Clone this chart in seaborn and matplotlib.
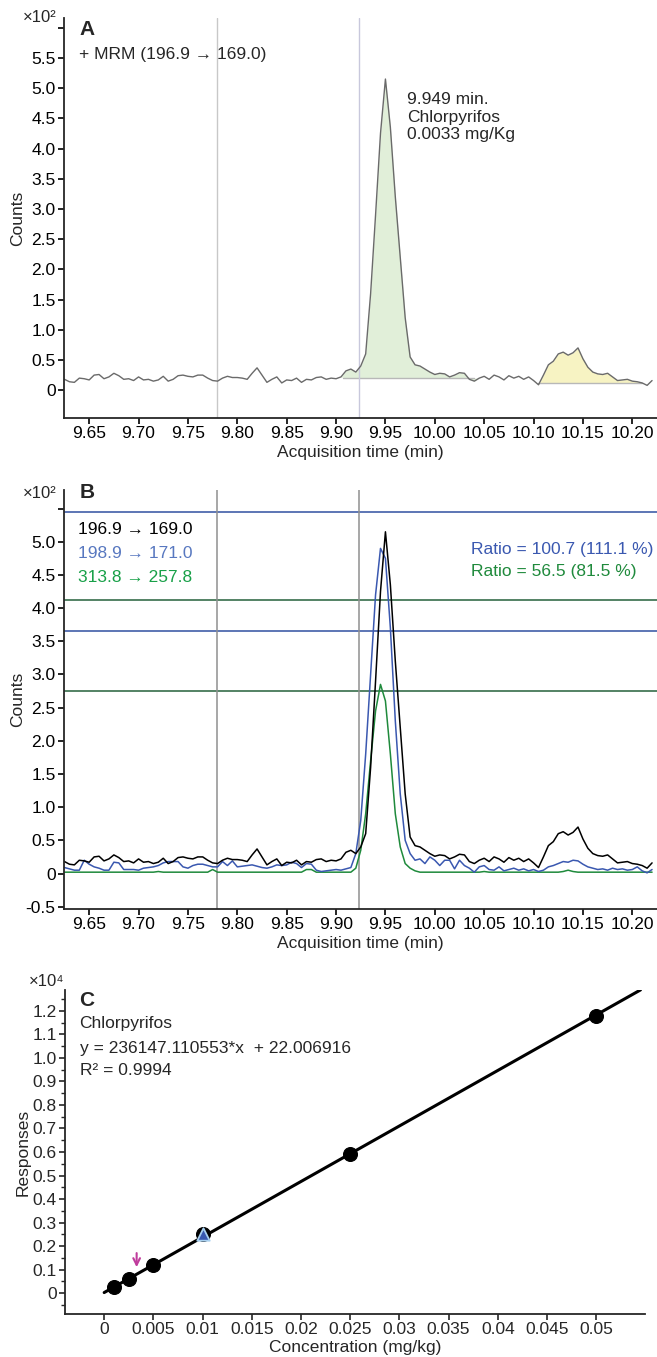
import numpy as np
import matplotlib
matplotlib.use("Agg")
import matplotlib.pyplot as plt
import seaborn as sns

# ------------------------------------------------------------------ data
T_START, T_STEP = 9.625, 0.005          # acquisition grid (min)
# 196.9 -> 169.0 quantifier trace (x10^2 counts)
TRACE_196 = [0.18, 0.14, 0.13, 0.20, 0.19, 0.17, 0.25, 0.26, 0.19, 0.22,
             0.28, 0.24, 0.18, 0.19, 0.16, 0.22, 0.17, 0.18, 0.15, 0.17,
             0.23, 0.15, 0.18, 0.24, 0.25, 0.23, 0.22, 0.25, 0.25, 0.20,
             0.16, 0.15, 0.20, 0.23, 0.21, 0.21, 0.20, 0.18, 0.28, 0.37,
             0.25, 0.13, 0.18, 0.22, 0.12, 0.17, 0.16, 0.20, 0.13, 0.18,
             0.17, 0.21, 0.22, 0.18, 0.20, 0.19, 0.22, 0.32, 0.35, 0.30,
             0.40, 0.60, 1.60, 2.90, 4.25, 5.15, 4.35, 3.20, 2.20, 1.20,
             0.55, 0.42, 0.40, 0.35, 0.30, 0.26, 0.28, 0.27, 0.22, 0.25,
             0.29, 0.28, 0.18, 0.15, 0.20, 0.23, 0.18, 0.25, 0.22, 0.17,
             0.24, 0.20, 0.23, 0.18, 0.22, 0.16, 0.09, 0.25, 0.42, 0.48,
             0.60, 0.63, 0.58, 0.62, 0.70, 0.52, 0.38, 0.30, 0.27, 0.26,
             0.28, 0.22, 0.16, 0.17, 0.18, 0.15, 0.14, 0.12, 0.08, 0.16]
# 198.9 -> 171.0 qualifier
TRACE_198 = [0.09, 0.07, 0.05, 0.05, 0.20, 0.14, 0.10, 0.08, 0.05, 0.05,
             0.17, 0.16, 0.06, 0.06, 0.06, 0.05, 0.08, 0.09, 0.10, 0.12,
             0.16, 0.18, 0.18, 0.18, 0.10, 0.08, 0.12, 0.14, 0.14, 0.12,
             0.10, 0.10, 0.18, 0.12, 0.19, 0.10, 0.11, 0.12, 0.13, 0.11,
             0.09, 0.08, 0.10, 0.13, 0.12, 0.13, 0.17, 0.15, 0.09, 0.15,
             0.14, 0.05, 0.03, 0.04, 0.05, 0.06, 0.05, 0.07, 0.09, 0.30,
             0.80, 1.80, 3.00, 4.20, 4.90, 4.75, 3.70, 2.30, 1.20, 0.50,
             0.30, 0.20, 0.22, 0.15, 0.25, 0.20, 0.12, 0.20, 0.20, 0.07,
             0.20, 0.12, 0.08, 0.02, 0.10, 0.12, 0.06, 0.05, 0.10, 0.04,
             0.06, 0.08, 0.05, 0.07, 0.04, 0.06, 0.03, 0.05, 0.10, 0.12,
             0.15, 0.18, 0.17, 0.20, 0.19, 0.14, 0.10, 0.08, 0.06, 0.07,
             0.05, 0.08, 0.06, 0.07, 0.05, 0.06, 0.10, 0.04, 0.01, 0.06]
# 313.8 -> 257.8 qualifier
TRACE_313 = [0.02, 0.02, 0.02, 0.02, 0.02, 0.02, 0.02, 0.02, 0.02, 0.02,
             0.02, 0.02, 0.02, 0.02, 0.02, 0.02, 0.02, 0.02, 0.02, 0.03,
             0.02, 0.02, 0.02, 0.02, 0.02, 0.02, 0.02, 0.02, 0.02, 0.02,
             0.06, 0.02, 0.02, 0.02, 0.02, 0.02, 0.02, 0.02, 0.02, 0.02,
             0.02, 0.02, 0.02, 0.02, 0.02, 0.02, 0.02, 0.02, 0.02, 0.06,
             0.06, 0.02, 0.02, 0.02, 0.02, 0.02, 0.02, 0.02, 0.02, 0.08,
             0.35, 0.90, 1.70, 2.45, 2.85, 2.60, 1.80, 0.90, 0.40, 0.15,
             0.08, 0.04, 0.02, 0.02, 0.02, 0.02, 0.02, 0.02, 0.02, 0.02,
             0.02, 0.02, 0.02, 0.02, 0.02, 0.03, 0.02, 0.02, 0.02, 0.02,
             0.02, 0.02, 0.02, 0.02, 0.02, 0.02, 0.02, 0.02, 0.02, 0.02,
             0.02, 0.03, 0.05, 0.03, 0.02, 0.02, 0.02, 0.02, 0.02, 0.02,
             0.02, 0.02, 0.02, 0.02, 0.02, 0.02, 0.02, 0.02, 0.02, 0.02]
TIME = np.round(T_START + T_STEP * np.arange(len(TRACE_196)), 3)

MARKER_TIMES = [9.779, 9.923]
PEAK_MAIN = (9.907, 10.04, 0.20)       # start, end, baseline
PEAK_SIDE = (10.105, 10.21, 0.12)
RATIO_BLUE = [5.445, 3.65]
RATIO_GREEN = [4.12, 2.75]

CAL_CONC = [0.001, 0.0025, 0.005, 0.01, 0.025, 0.05]
CAL_RESP = [0.0255, 0.061, 0.118, 0.25, 0.59, 1.18]      # x10^4
SAMPLE_CONC = [0.01]
SAMPLE_RESP = [0.25]
SLOPE, INTERCEPT = 236147.110553, 22.006916
LINE_RANGE = [0.0, 0.0545]
ARROW_CONC = 0.0033

X_TICKS = [9.65, 9.70, 9.75, 9.80, 9.85, 9.90, 9.95, 10.00, 10.05, 10.10, 10.15, 10.20]

# ------------------------------------------------------------------ style
sns.set_style("white")
plt.rcParams['font.family'] = ['Liberation Sans', 'DejaVu Sans']
plt.rcParams['axes.linewidth'] = 1.3
FS = 12.5

W, H = 657, 1357
fig = plt.figure(figsize=(W / 100, H / 100), dpi=100)


def px_axes(l, t, r, b):
    return fig.add_axes([l / W, 1 - b / H, (r - l) / W, (b - t) / H])


def fmt1(v):
    return '0' if abs(v) < 1e-9 else f'{v:.1f}'


def style_chrom(ax, ylo, yhi, yticks, hidden):
    ax.set_xlim(9.6245, 10.225)
    ax.set_ylim(ylo, yhi)
    sns.despine(ax=ax)
    ax.set_xticks(X_TICKS)
    ax.set_xticklabels([f'{v:.2f}' for v in X_TICKS])
    ax.set_yticks(yticks)
    ax.set_yticklabels(['' if v in hidden else fmt1(v) for v in yticks])
    ax.tick_params(axis='both', labelsize=FS, direction='out', length=4,
                   width=1.2, pad=2, colors='black', left=True, bottom=True)
    ax.set_xlabel('Acquisition time (min)', fontsize=FS, labelpad=2.5)
    ax.set_ylabel('Counts', fontsize=FS)
    ax.yaxis.set_label_coords(-0.066, 0.5)


# ------------------------------------------------------------------ panel A
axA = px_axes(64, 18, 657, 418)
sA, eA, bA = PEAK_MAIN
m = (TIME >= sA - 1e-9) & (TIME <= eA + 1e-9)
axA.fill_between(TIME, TRACE_196, bA, where=m, color='#e1efd9', lw=0, interpolate=True)
s2, e2, b2 = PEAK_SIDE
m2 = (TIME >= s2 - 1e-9) & (TIME <= e2 + 1e-9)
axA.fill_between(TIME, TRACE_196, b2, where=m2, color='#f7f3c3', lw=0, interpolate=True)
axA.plot([sA, eA], [bA, bA], color='#b8b8b8', lw=1)
axA.plot([s2, e2], [b2, b2], color='#b8b8b8', lw=1)
axA.axvline(MARKER_TIMES[0], color='#c8c8c8', lw=1)
axA.axvline(MARKER_TIMES[1], color='#c8c8dc', lw=1)
sns.lineplot(x=TIME, y=TRACE_196, ax=axA, color='#6a6a6a', lw=1.0)
style_chrom(axA, -0.46, 6.16, np.round(np.arange(0, 6.01, 0.5), 1), [6.0])
axA.text(0.026, 0.972, 'A', transform=axA.transAxes, fontsize=15, fontweight='bold', va='center')
axA.text(0.026, 0.908, '+ MRM (196.9 → 169.0)', transform=axA.transAxes, fontsize=FS, va='center')
axA.text(9.972, 4.93, '9.949 min.\nChlorpyrifos\n0.0033 mg/Kg',
         fontsize=FS, va='top', linespacing=1.2)
fig.text(40 / W, 1 - 17 / H, '×10²', fontsize=12, ha='center', va='center')

# ------------------------------------------------------------------ panel B
axB = px_axes(64, 490, 657, 909)
for v in RATIO_BLUE:
    axB.axhline(v, color='#3050a0', lw=1.1)
for v in RATIO_GREEN:
    axB.axhline(v, color='#25603a', lw=1.1)
for v in MARKER_TIMES:
    axB.axvline(v, color='#909090', lw=1.1)
sns.lineplot(x=TIME, y=TRACE_313, ax=axB, color='#1f8a3c', lw=1.1)
sns.lineplot(x=TIME, y=TRACE_198, ax=axB, color='#3a58b0', lw=1.1)
sns.lineplot(x=TIME, y=TRACE_196, ax=axB, color='black', lw=1.1)
style_chrom(axB, -0.535, 5.78, np.round(np.arange(-0.5, 5.51, 0.5), 1), [5.5])
axB.text(0.026, 0.993, 'B', transform=axB.transAxes, fontsize=15, fontweight='bold', va='center')
for i, (lab, col) in enumerate([('196.9 → 169.0', 'black'),
                                ('198.9 → 171.0', '#5878c0'),
                                ('313.8 → 257.8', '#18a048')]):
    axB.text(0.024, 0.906 - i * 0.0575, lab, transform=axB.transAxes,
             fontsize=FS, color=col, va='center')
axB.text(0.687, 0.859, 'Ratio = 100.7 (111.1 %)', transform=axB.transAxes,
         fontsize=FS, color='#3a58b0', va='center')
axB.text(0.687, 0.805, 'Ratio = 56.5 (81.5 %)', transform=axB.transAxes,
         fontsize=FS, color='#1f8a3c', va='center')
fig.text(40 / W, 1 - 493 / H, '×10²', fontsize=12, ha='center', va='center')

# ------------------------------------------------------------------ panel C
axC = px_axes(65, 990, 645, 1314)
xl = np.array(LINE_RANGE)
sns.lineplot(x=xl, y=(SLOPE * xl + INTERCEPT) / 1e4, ax=axC, color='black', lw=2.2)
sns.scatterplot(x=CAL_CONC, y=CAL_RESP, ax=axC, color='black', s=100,
                marker='o', edgecolor='black', zorder=5)
sns.scatterplot(x=SAMPLE_CONC, y=SAMPLE_RESP, ax=axC, color='#3858b0', s=80,
                marker='^', edgecolor='#a8d0f0', linewidth=1.3, zorder=6)
ya = (SLOPE * ARROW_CONC + INTERCEPT) / 1e4
axC.annotate('', xy=(ARROW_CONC, ya + 0.03), xytext=(ARROW_CONC, ya + 0.09),
             arrowprops=dict(arrowstyle='->', color='#c03c9c', lw=1.5,
                             mutation_scale=12, shrinkA=0, shrinkB=0))
axC.set_xlim(-0.00398, 0.05496)
axC.set_ylim(-0.089, 1.289)
sns.despine(ax=axC)
cx = [0, 0.005, 0.01, 0.015, 0.02, 0.025, 0.03, 0.035, 0.04, 0.045, 0.05]
axC.set_xticks(cx)
axC.set_xticklabels([f'{v:g}' for v in cx])
cy = np.round(np.arange(0, 1.21, 0.1), 1)
axC.set_yticks(cy)
axC.set_yticklabels(['0' if v == 0 else f'{v:.1f}' for v in cy])
axC.set_yticks(np.round(np.arange(-0.05, 1.26, 0.1), 2), minor=True)
axC.tick_params(axis='both', labelsize=FS, direction='out', length=4,
                width=1.2, pad=2, left=True, bottom=True)
axC.tick_params(axis='y', which='minor', length=3, width=1.0, left=True)
axC.set_xlabel('Concentration (mg/kg)', fontsize=FS, labelpad=2)
axC.set_ylabel('Responses', fontsize=FS)
axC.yaxis.set_label_coords(-0.0586, 0.5)
axC.text(0.025, 0.969, 'C', transform=axC.transAxes, fontsize=15, fontweight='bold', va='center')
axC.text(0.025, 0.898, 'Chlorpyrifos', transform=axC.transAxes, fontsize=FS, va='center')
axC.text(0.025, 0.820, 'y = 236147.110553*x  + 22.006916', transform=axC.transAxes,
         fontsize=FS, va='center')
axC.text(0.025, 0.752, 'R² = 0.9994', transform=axC.transAxes, fontsize=FS, va='center')
fig.text(47 / W, 1 - 982 / H, '×10⁴', fontsize=12, ha='center', va='center')

fig.savefig('out.png', dpi=100)
